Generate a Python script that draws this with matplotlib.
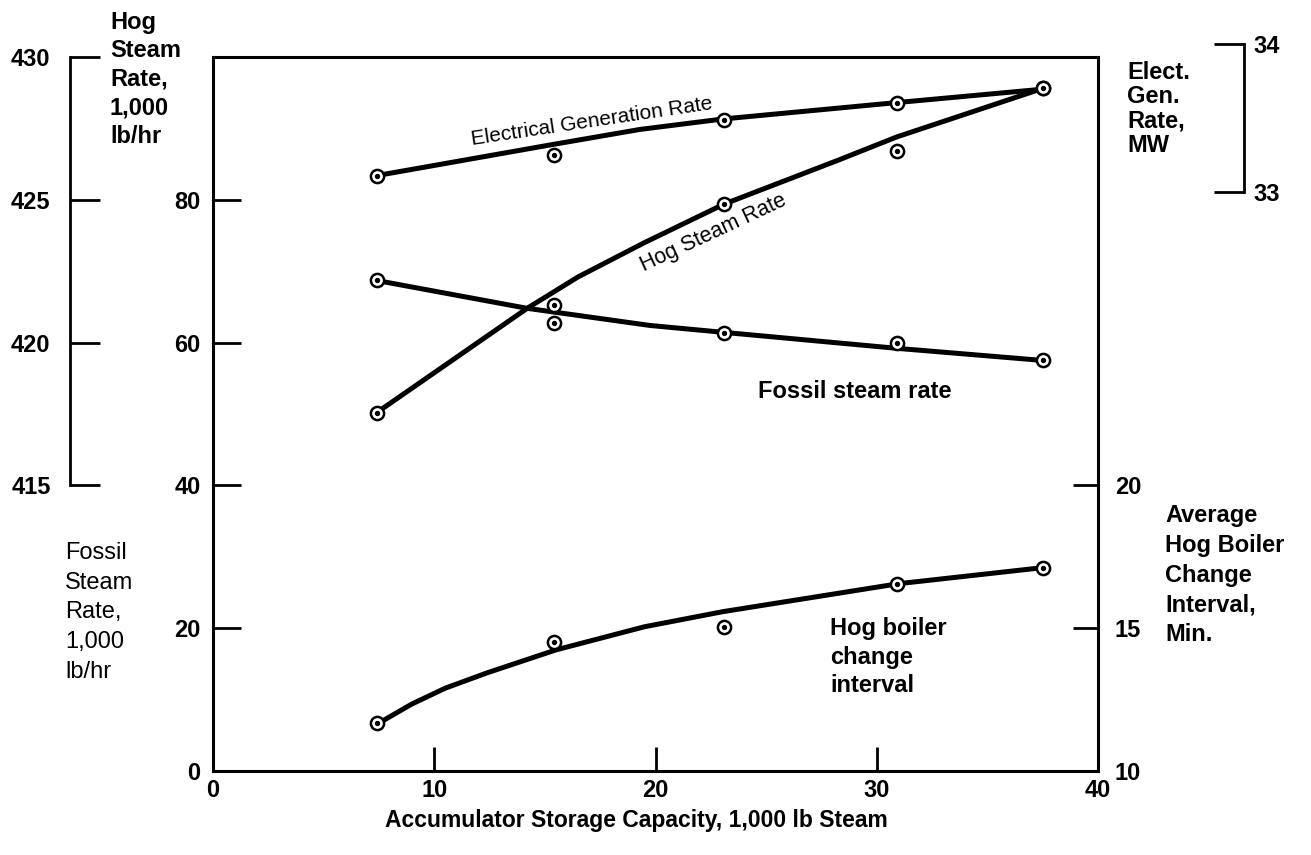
import matplotlib
matplotlib.use("Agg")
import matplotlib.pyplot as plt

plt.rcParams['font.family'] = ['Liberation Sans', 'DejaVu Sans']

# ------------------ DATA ------------------
# measured points
cap_pts = [7.4, 15.4, 23.1, 30.9, 37.5]          # 1,000 lb steam
elect_pts = [33.11, 33.25, 33.48, 33.60, 33.70]   # MW
hog_pts = [417.55, 421.3, 424.85, 426.7, 428.9]   # 1,000 lb/hr
fossil_pts = [68.7, 62.7, 61.4, 60.0, 57.5]       # 1,000 lb/hr
interval_pts = [11.68, 14.52, 15.05, 16.56, 17.12]  # min

# hand-drawn curves through the points
elect_cx = [7.4, 15.4, 19.3, 23.05, 30.9, 37.5]
elect_cy = [33.11, 33.32, 33.42, 33.49, 33.60, 33.69]

hog_cx = [7.4, 8.8, 14.2, 16.5, 19.5, 23.1, 28.3, 30.9, 37.5]
hog_cy = [417.55, 418.3, 421.2, 422.3, 423.5, 424.85, 426.4, 427.2, 428.9]

fossil_cx = [7.4, 14.2, 19.75, 23.2, 30.9, 37.5]
fossil_cy = [68.7, 64.8, 62.4, 61.4, 59.2, 57.5]

interval_cx = [7.5, 9.0, 10.5, 12.4, 15.5, 19.5, 23.05, 31.0, 37.5]
interval_cy = [11.68, 12.35, 12.9, 13.44, 14.24, 15.05, 15.58, 16.56, 17.12]

W, H = 1311, 855


def fx(px):
    return px / W


def fy(py):
    return 1 - py / H


fig = plt.figure(figsize=(W / 100, H / 100), dpi=100)

# main axes (fossil steam rate)
ax = fig.add_axes([fx(213), fy(771), (1098 - 213) / W, (771 - 57) / H])
ax.set_xlim(0, 40)
ax.set_ylim(0, 100)
ax.set_xticks([0, 10, 20, 30, 40])
ax.set_yticks([0, 20, 40, 60, 80])
for s in ax.spines.values():
    s.set_linewidth(2.2)
ax.tick_params(axis='x', direction='in', length=17, width=2, labelsize=17, pad=6)
ax.tick_params(axis='y', direction='in', length=20, width=2, labelsize=17, pad=9)
for lab in ax.get_xticklabels() + ax.get_yticklabels():
    lab.set_fontweight('bold')

# right axis: hog boiler change interval
ax_int = ax.twinx()
ax_int.set_ylim(10, 35)
ax_int.set_yticks([10, 15, 20])
ax_int.tick_params(axis='y', direction='in', length=18, width=2, labelsize=17, pad=12)
for lab in ax_int.get_yticklabels():
    lab.set_fontweight('bold')
for s in ax_int.spines.values():
    s.set_visible(False)

# hidden axes for hog steam rate and electrical generation
ax_hog = ax.twinx()
ax_hog.set_ylim(405, 430)
ax_hog.axis('off')
ax_mw = ax.twinx()
ax_mw.set_ylim(29.114, 33.906)
ax_mw.axis('off')

line_kw = dict(color='black', lw=3.6, solid_capstyle='round', solid_joinstyle='round', zorder=3)


def markers(a, x, y):
    a.plot(x, y, 'o', ms=9.5, mfc='white', mec='black', mew=1.8, zorder=4, clip_on=False)
    a.plot(x, y, 'o', ms=2.8, color='black', zorder=5, clip_on=False)


ax_mw.plot(elect_cx, elect_cy, **line_kw)
markers(ax_mw, cap_pts, elect_pts)
ax_hog.plot(hog_cx, hog_cy, **line_kw)
markers(ax_hog, cap_pts, hog_pts)
ax.plot(fossil_cx, fossil_cy, **line_kw)
markers(ax, cap_pts, fossil_pts)
ax_int.plot(interval_cx, interval_cy, **line_kw)
markers(ax_int, cap_pts, interval_pts)

# curve labels
ax.text(17.1, 91.0, 'Electrical Generation Rate', fontsize=15, rotation=8.5,
        ha='center', va='center', rotation_mode='anchor')
ax.text(22.6, 75.4, 'Hog Steam Rate', fontsize=15.5, rotation=25,
        ha='center', va='center', rotation_mode='anchor')
ax.text(29.0, 53.2, 'Fossil steam rate', fontsize=17, fontweight='bold',
        ha='center', va='center')
ax.text(27.9, 21.6, 'Hog boiler\nchange\ninterval', fontsize=17, fontweight='bold',
        ha='left', va='top', linespacing=1.32)

# left bracket: hog steam rate scale
axb1 = fig.add_axes([fx(70), fy(771), 0.002, (771 - 57) / H])
axb1.set_ylim(405, 430)
axb1.set_yticks([415, 420, 425, 430])
axb1.patch.set_visible(False)
axb1.set_xticks([])
for k in ['top', 'right', 'bottom']:
    axb1.spines[k].set_visible(False)
axb1.spines['left'].set_bounds(415, 430)
axb1.spines['left'].set_linewidth(2)
axb1.tick_params(axis='y', direction='in', length=21.5, width=2, labelsize=17, pad=14)
for lab in axb1.get_yticklabels():
    lab.set_fontweight('bold')

# right bracket: electrical generation scale
axb2 = fig.add_axes([fx(1241), fy(192), 0.002, (192 - 44) / H])
axb2.set_ylim(33, 34)
axb2.set_yticks([33, 34])
axb2.patch.set_visible(False)
axb2.set_xticks([])
for k in ['top', 'left', 'bottom']:
    axb2.spines[k].set_visible(False)
axb2.spines['right'].set_linewidth(2)
axb2.yaxis.tick_right()
axb2.tick_params(axis='y', direction='in', length=21.5, width=2, labelsize=17, pad=7)
for lab in axb2.get_yticklabels():
    lab.set_fontweight('bold')

# axis titles
fig.text(fx(110), fy(11), 'Hog\nSteam\nRate,\n1,000\nlb/hr', fontsize=17, fontweight='bold',
         ha='left', va='top', linespacing=1.3)
fig.text(fx(65), fy(542), 'Fossil\nSteam\nRate,\n1,000\nlb/hr', fontsize=17,
         ha='left', va='top', linespacing=1.45)
fig.text(fx(1127), fy(61), 'Elect.\nGen.\nRate,\nMW', fontsize=17, fontweight='bold',
         ha='left', va='top', linespacing=1.08)
fig.text(fx(1165), fy(504), 'Average\nHog Boiler\nChange\nInterval,\nMin.', fontsize=17,
         fontweight='bold', ha='left', va='top', linespacing=1.38)
fig.text(fx(636), fy(820), 'Accumulator Storage Capacity, 1,000 lb Steam', fontsize=16.5,
         fontweight='bold', ha='center', va='center')

fig.savefig('out.png', dpi=100)
